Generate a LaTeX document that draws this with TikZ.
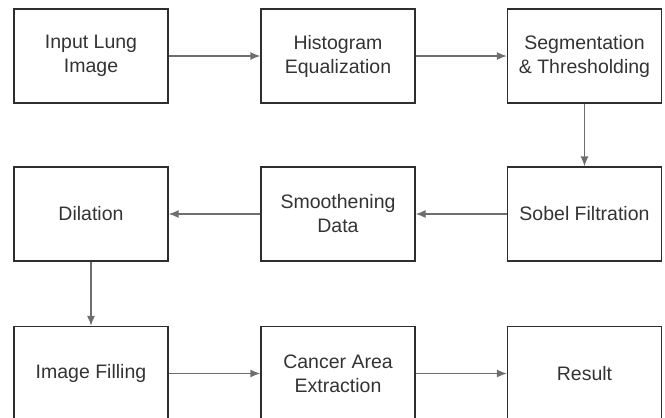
\documentclass[tikz,border=0pt]{standalone}
\usepackage{fontspec}
\setmainfont{Liberation Sans}
\usetikzlibrary{arrows.meta}
\definecolor{boxline}{HTML}{2E2E2E}
\definecolor{arrline}{HTML}{6E6E6E}
\definecolor{txt}{HTML}{333333}
\begin{document}
\begin{tikzpicture}[x=1pt,y=1pt,>={Latex[length=10pt,width=8pt]},
    stepbox/.style={draw=boxline,line width=1.3pt,minimum width=154pt,
      minimum height=94pt,inner sep=0pt,align=center,text=txt,
      font=\fontsize{19.5}{24}\selectfont},
    flow/.style={->,draw=arrline,line width=1.3pt}]
      \useasboundingbox (0,0) rectangle (665,-418);
      %
      \node[stepbox] (input) at (91,-56) {Input Lung\\Image};
      \node[stepbox] (histo) at (338,-56) {Histogram\\Equalization};
      \node[stepbox] (segm) at (584.5,-56) {Segmentation\\\& Thresholding};
      \node[stepbox] (sobel) at (584.5,-214) {Sobel Filtration};
      \node[stepbox] (smooth) at (338,-214) {Smoothening\\Data};
      \node[stepbox] (dil) at (91,-214) {Dilation};
      \node[stepbox] (fill) at (91,-373.5) {Image Filling};
      \node[stepbox] (cancer) at (338,-373.5) {Cancer Area\\Extraction};
      \node[stepbox] (result) at (584.5,-373.5) {Result};
      %
      \draw[flow] (input) -- (histo);
      \draw[flow] (histo) -- (segm);
      \draw[flow] (segm) -- (sobel);
      \draw[flow] (sobel) -- (smooth);
      \draw[flow] (smooth) -- (dil);
      \draw[flow] (dil) -- (fill);
      \draw[flow] (fill) -- (cancer);
      \draw[flow] (cancer) -- (result);
\end{tikzpicture}
\end{document}
